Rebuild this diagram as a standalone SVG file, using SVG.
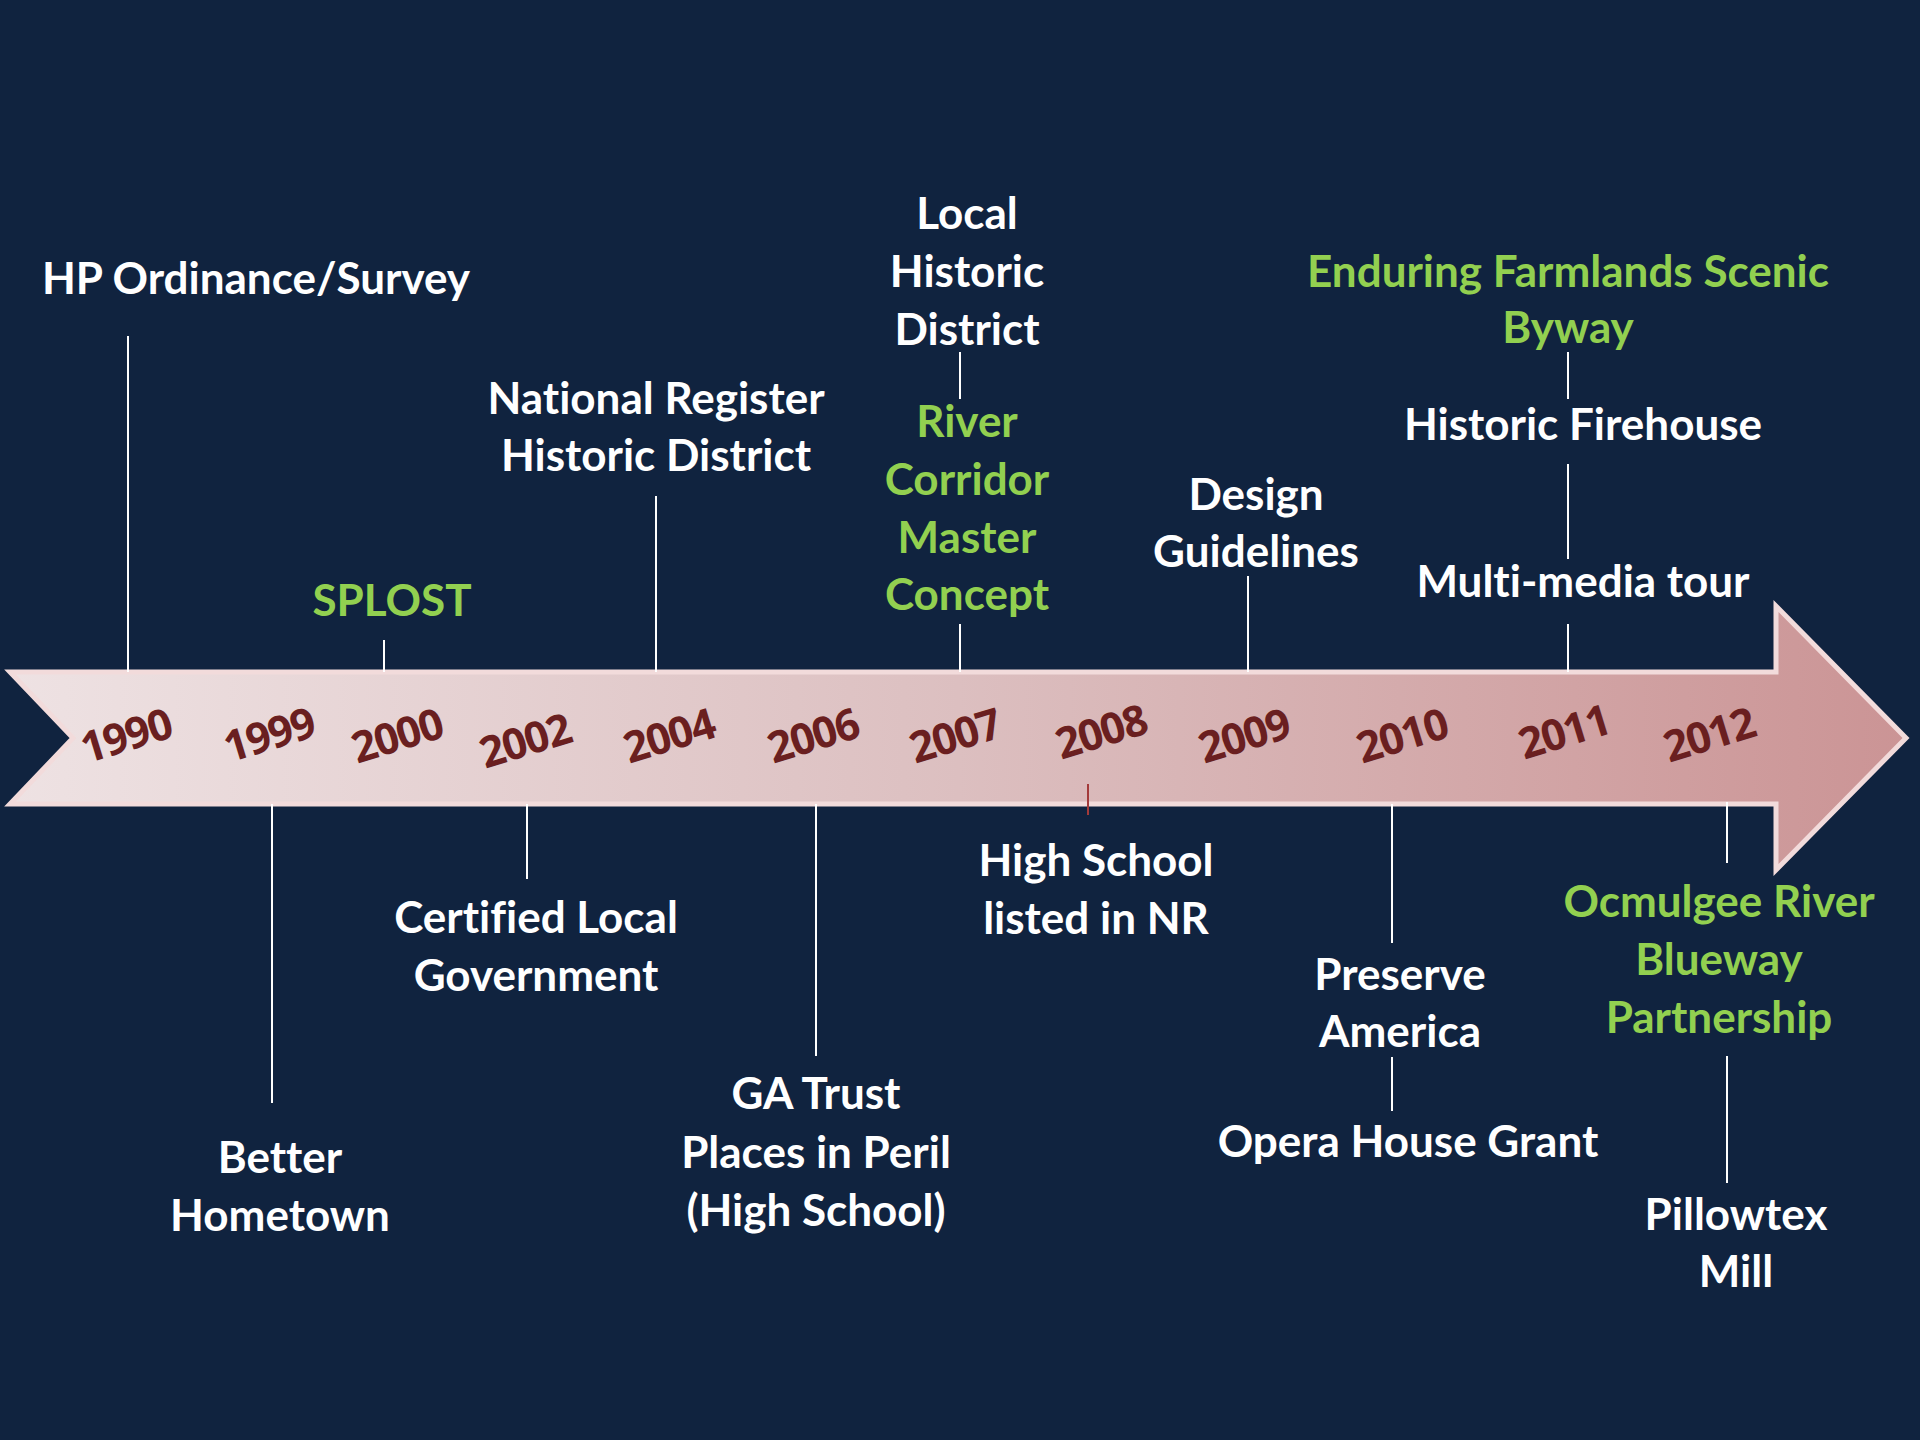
<svg xmlns="http://www.w3.org/2000/svg" width="1920" height="1440" viewBox="0 0 1920 1440">
  <defs>
    <linearGradient id="arrowGrad" x1="0" y1="0" x2="1" y2="0">
      <stop offset="0" stop-color="#eee2e3"/>
      <stop offset="0.5" stop-color="#dcbfc0"/>
      <stop offset="1" stop-color="#cb9495"/>
    </linearGradient>
    <style>
      .lbl { font-family: Lato, "Liberation Sans", sans-serif; font-weight: bold; font-size: 44px; text-anchor: middle; font-variant-ligatures: none; }
      .w { fill: #ffffff; }
      .g { fill: #92d050; }
      .yr { font-family: "Open Sans", "Liberation Sans", sans-serif; font-weight: bold; font-size: 43px; letter-spacing: -1.5px; fill: #6a1f20; text-anchor: middle; }
      .ln { stroke: #ffffff; stroke-width: 2; fill: none; }
      .lnr { stroke: #a33a3a; stroke-width: 2; fill: none; }
    </style>
  </defs>
  <rect x="0" y="0" width="1920" height="1440" fill="#10233f"/>

  <g id="timeline-arrow">
    <polygon points="10,672 1776,672 1776,606 1906,738 1776,870 1776,804 10,804 73,738" fill="url(#arrowGrad)" stroke="#f2dbdb" stroke-width="5" stroke-linejoin="miter"/>
  </g>

  <g id="years">
    <text class="yr" transform="rotate(-17 126 736)" x="126" y="751">1990</text>
    <text class="yr" transform="rotate(-17 269 735)" x="269" y="750">1999</text>
    <text class="yr" transform="rotate(-17 397 736)" x="397" y="751">2000</text>
    <text class="yr" transform="rotate(-17 525 741)" x="525" y="756">2002</text>
    <text class="yr" transform="rotate(-17 669 736)" x="669" y="751">2004</text>
    <text class="yr" transform="rotate(-17 813 736)" x="813" y="751">2006</text>
    <text class="yr" transform="rotate(-17 955 736)" x="955" y="751">2007</text>
    <text class="yr" transform="rotate(-17 1101 732)" x="1101" y="747">2008</text>
    <text class="yr" transform="rotate(-17 1244 736)" x="1244" y="751">2009</text>
    <text class="yr" transform="rotate(-17 1402 736)" x="1402" y="751">2010</text>
    <text class="yr" transform="rotate(-17 1564 732)" x="1564" y="747">2011</text>
    <text class="yr" transform="rotate(-17 1709 735)" x="1709" y="750">2012</text>
  </g>

  <g id="connectors">
    <line class="ln" x1="128" y1="336" x2="128" y2="672"/>
    <line class="ln" x1="384" y1="640" x2="384" y2="672"/>
    <line class="ln" x1="656" y1="496" x2="656" y2="672"/>
    <line class="ln" x1="960" y1="352" x2="960" y2="399"/>
    <line class="ln" x1="960" y1="624" x2="960" y2="672"/>
    <line class="ln" x1="1248" y1="576" x2="1248" y2="672"/>
    <line class="ln" x1="1568" y1="352" x2="1568" y2="399"/>
    <line class="ln" x1="1568" y1="464" x2="1568" y2="559"/>
    <line class="ln" x1="1568" y1="624" x2="1568" y2="672"/>
    <line class="ln" x1="272" y1="804" x2="272" y2="1103"/>
    <line class="ln" x1="527" y1="804" x2="527" y2="879"/>
    <line class="ln" x1="816" y1="804" x2="816" y2="1056"/>
    <line class="lnr" x1="1088" y1="784" x2="1088" y2="815"/>
    <line class="ln" x1="1392" y1="804" x2="1392" y2="943"/>
    <line class="ln" x1="1392" y1="1057" x2="1392" y2="1111"/>
    <line class="ln" x1="1727" y1="802" x2="1727" y2="863"/>
    <line class="ln" x1="1727" y1="1056" x2="1727" y2="1183"/>
  </g>

  <g id="hp-ordinance">
    <text class="lbl w" x="256" y="294">HP Ordinance/Survey</text>
  </g>
  <g id="splost">
    <text class="lbl g" x="392" y="616">SPLOST</text>
  </g>
  <g id="national-register">
    <text class="lbl w" x="656" y="414">National Register</text>
    <text class="lbl w" x="656" y="471">Historic District</text>
  </g>
  <g id="local-historic-district">
    <text class="lbl w" x="967" y="229">Local</text>
    <text class="lbl w" x="967" y="287">Historic</text>
    <text class="lbl w" x="967" y="345">District</text>
  </g>
  <g id="river-corridor">
    <text class="lbl g" x="967" y="437">River</text>
    <text class="lbl g" x="967" y="495">Corridor</text>
    <text class="lbl g" x="967" y="553">Master</text>
    <text class="lbl g" x="967" y="610">Concept</text>
  </g>
  <g id="design-guidelines">
    <text class="lbl w" x="1256" y="510">Design</text>
    <text class="lbl w" x="1256" y="567">Guidelines</text>
  </g>
  <g id="enduring-farmlands">
    <text class="lbl g" x="1568" y="287">Enduring Farmlands Scenic</text>
    <text class="lbl g" x="1568" y="343">Byway</text>
  </g>
  <g id="historic-firehouse">
    <text class="lbl w" x="1583" y="440">Historic Firehouse</text>
  </g>
  <g id="multimedia-tour">
    <text class="lbl w" x="1583" y="597">Multi-media tour</text>
  </g>
  <g id="better-hometown">
    <text class="lbl w" x="280" y="1173">Better</text>
    <text class="lbl w" x="280" y="1231">Hometown</text>
  </g>
  <g id="certified-local-government">
    <text class="lbl w" x="536" y="933">Certified Local</text>
    <text class="lbl w" x="536" y="991">Government</text>
  </g>
  <g id="ga-trust">
    <text class="lbl w" x="816" y="1109">GA Trust</text>
    <text class="lbl w" x="816" y="1168">Places in Peril</text>
    <text class="lbl w" x="816" y="1226">(High School)</text>
  </g>
  <g id="high-school-nr">
    <text class="lbl w" x="1096" y="876">High School</text>
    <text class="lbl w" x="1096" y="934">listed in NR</text>
  </g>
  <g id="preserve-america">
    <text class="lbl w" x="1400" y="990">Preserve</text>
    <text class="lbl w" x="1400" y="1047">America</text>
  </g>
  <g id="opera-house-grant">
    <text class="lbl w" x="1408" y="1157">Opera House Grant</text>
  </g>
  <g id="ocmulgee-blueway">
    <text class="lbl g" x="1719" y="917">Ocmulgee River</text>
    <text class="lbl g" x="1719" y="975">Blueway</text>
    <text class="lbl g" x="1719" y="1033">Partnership</text>
  </g>
  <g id="pillowtex-mill">
    <text class="lbl w" x="1736" y="1230">Pillowtex</text>
    <text class="lbl w" x="1736" y="1287">Mill</text>
  </g>
</svg>
